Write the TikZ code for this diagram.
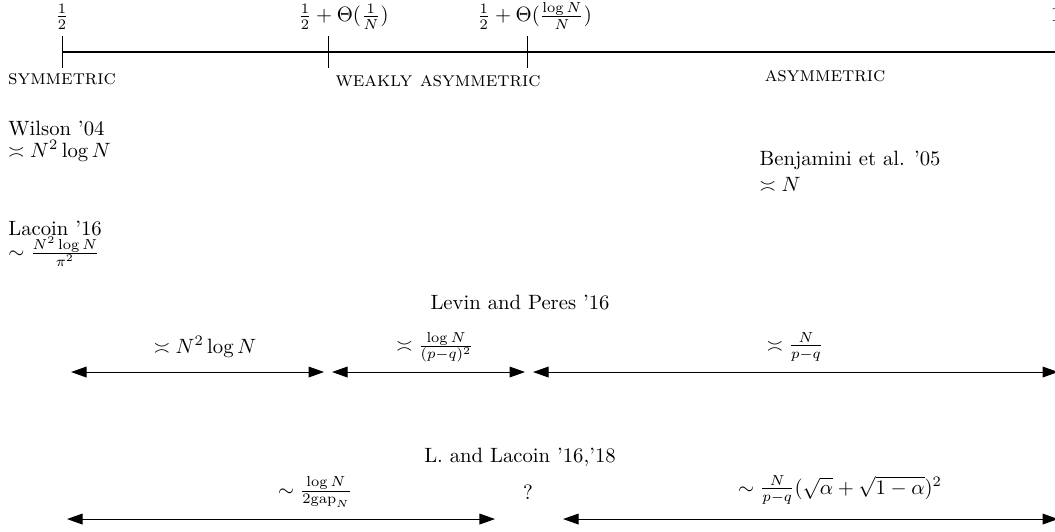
\documentclass[tikz,border=0pt]{standalone}
\usepackage{amsmath,amssymb}
\usetikzlibrary{arrows.meta}
\tikzset{
  axline/.style={line width=0.5pt},
  dbl/.style={<->, >={Triangle[length=7.5pt,width=5.2pt]}, line width=0.5pt},
  regime/.style={font=\scshape}
}

\begin{document}
\begin{tikzpicture}
\useasboundingbox (-1.053,0.883) rectangle (16.858,-8.132);
\clip (-1.053,0.883) rectangle (16.858,-8.132);

% the axis with its ticks
\coordinate (o) at (0,0);
\coordinate (e) at (16.91,0);
\coordinate (ta1) at (0,0.272);
\coordinate (tb1) at (0,-0.272);
\coordinate (ta2) at (4.516,0.272);
\coordinate (tb2) at (4.516,-0.272);
\coordinate (ta3) at (7.895,0.272);
\coordinate (tb3) at (7.895,-0.272);
\draw[axline] (o) -- (e);
\draw[axline] (ta1) -- (tb1);
\draw[axline] (ta2) -- (tb2);
\draw[axline] (ta3) -- (tb3);
\node[anchor=base] at (0,0.51) (half) {$\frac{1}{2}$};
\node[anchor=base] at (4.779,0.51) (weak) {$\frac{1}{2}+\Theta(\frac{1}{N})$};
\node[anchor=base] at (8.022,0.51) (strong) {$\frac{1}{2}+\Theta(\frac{\log N}{N})$};
\node[anchor=base] at (16.876,0.51) (one) {$1$};
\node[regime] at (0,-0.458) (sym) {symmetric};
\node[regime] at (6.384,-0.49) (wsym) {weakly asymmetric};
\node[regime] at (12.954,-0.41) (asym) {asymmetric};

% known results
\node[anchor=base west] at (-1.036,-1.409) (wil) {Wilson '04};
\node[anchor=base west] at (-1.036,-1.791) (wilr) {$\asymp N^2\log N$};
\node[anchor=base west] at (-1.036,-3.107) (lac) {Lacoin '16};
\node[anchor=base west] at (-1.036,-3.514) (lacr) {$\sim \frac{N^2\log N}{\pi^2}$};
\node[anchor=base west] at (11.72,-1.935) (ben) {Benjamini et al. '05};
\node[anchor=base west] at (11.72,-2.36) (benr) {$\asymp N$};

% Levin and Peres
\node at (7.776,-4.261) (lp) {Levin and Peres '16};
\node at (2.428,-5.008) (lp1) {$\asymp N^2\log N$};
\node at (6.333,-5.008) (lp2) {$\asymp \frac{\log N}{(p-q)^2}$};
\node at (12.445,-5.008) (lp3) {$\asymp \frac{N}{p-q}$};
\coordinate (r1a) at (0.153,-5.433);
\coordinate (r1b) at (4.448,-5.433);
\coordinate (r2a) at (4.584,-5.433);
\coordinate (r2b) at (7.861,-5.433);
\coordinate (r3a) at (7.997,-5.433);
\coordinate (r3b) at (16.91,-5.433);
\draw (r1a) edge[dbl] (r1b);
\draw (r2a) edge[dbl] (r2b);
\draw (r3a) edge[dbl] (r3b);

% L. and Lacoin
\node at (7.776,-6.876) (ll) {L. and Lacoin '16,'18};
\node at (4.295,-7.47) (ll1) {$\sim \frac{\log N}{2\mathrm{gap}_N}$};
\node at (7.912,-7.47) (ll2) {?};
\node at (13.209,-7.436) (ll3) {$\sim \frac{N}{p-q}(\sqrt{\alpha}+\sqrt{1-\alpha})^2$};
\coordinate (s1a) at (0.085,-7.929);
\coordinate (s1b) at (7.351,-7.929);
\coordinate (s2a) at (8.506,-7.929);
\coordinate (s2b) at (16.91,-7.929);
\draw (s1a) edge[dbl] (s1b);
\draw (s2a) edge[dbl] (s2b);
\end{tikzpicture}
\end{document}
